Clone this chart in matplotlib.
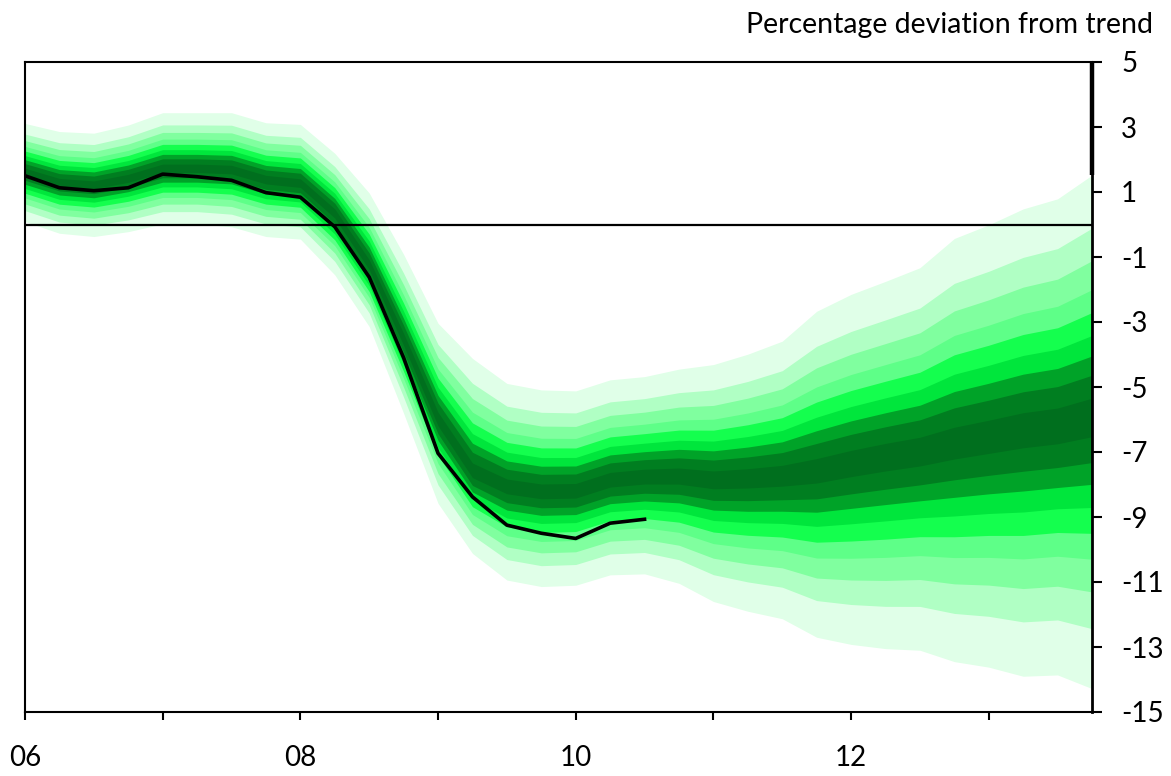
import numpy as np
import matplotlib
matplotlib.use("Agg")
import matplotlib.pyplot as plt

plt.rcParams['font.family'] = ['Lato', 'DejaVu Sans']

# quarterly dates, 2006 Q1 .. 2013 Q4
quarters = [2006.0 + 0.25 * k for k in range(32)]

# outer edges of the fan (lightest band) and middle of the darkest band
fan_top = [3.11, 2.86, 2.81, 3.06, 3.44, 3.44, 3.44, 3.13,
           3.08, 2.19, 0.97, -0.92, -3.04, -4.12, -4.89, -5.09,
           -5.12, -4.78, -4.68, -4.45, -4.31, -3.99, -3.59, -2.67,
           -2.15, -1.75, -1.33, -0.43, -0.01, 0.48, 0.79, 1.52]
fan_bottom = [0.09, -0.27, -0.37, -0.22, 0.02, 0.02, -0.07, -0.37,
              -0.45, -1.55, -3.14, -5.81, -8.58, -10.12, -10.94, -11.14,
              -11.10, -10.78, -10.75, -11.04, -11.60, -11.90, -12.13, -12.70,
              -12.92, -13.05, -13.10, -13.45, -13.62, -13.90, -13.86, -14.28]
fan_centre = [1.62, 1.30, 1.22, 1.42, 1.73, 1.73, 1.69, 1.38,
              1.27, 0.34, -1.25, -3.55, -6.00, -7.60, -8.07, -8.22,
              -8.20, -7.86, -7.76, -7.74, -7.85, -7.80, -7.72, -7.57,
              -7.34, -7.14, -6.97, -6.71, -6.51, -6.30, -6.17, -5.90]

# position of each band edge as a share of the distance centre -> outer edge
band_share = [0.075, 0.17, 0.25, 0.335, 0.43, 0.525, 0.645, 0.78, 1.0]
band_colors = ['#006F1E', '#007E20', '#00A328', '#00E63C', '#14FF4E',
               '#5EFF88', '#80FF9F', '#B0FFC4', '#E0FFE8']

# outturn
outturn_x = quarters[:19]
outturn = [1.50, 1.13, 1.04, 1.13, 1.55, 1.47, 1.36, 0.98,
           0.84, -0.07, -1.62, -4.10, -7.04, -8.38, -9.25, -9.50,
           -9.66, -9.19, -9.07]

x = np.array(quarters)
top = np.array(fan_top)
bot = np.array(fan_bottom)
mid = np.array(fan_centre)

fig = plt.figure(figsize=(11.71, 7.76), dpi=100)
ax = fig.add_axes([25 / 1171, 64 / 776, 1067 / 1171, 650 / 776])

# outer bands first, darker ones painted over them
for share, col in reversed(list(zip(band_share, band_colors))):
    upper = mid + share * (top - mid)
    lower = mid - share * (mid - bot)
    ax.fill_between(x, lower, upper, color=col, linewidth=0, zorder=1)

ax.axhline(0, color='black', lw=1.6, zorder=3)
ax.plot(outturn_x, outturn, color='black', lw=2.6, zorder=4)

# heavier edge on the right above the fan
ax.vlines(quarters[-1], fan_top[-1], 5, color='black', lw=3.2, zorder=5,
          clip_on=False)

ax.set_xlim(2006, 2013.75)
ax.set_ylim(-15, 5)

ax.yaxis.tick_right()
yt = list(range(-15, 6, 2))
ax.set_yticks(yt)
ax.set_yticklabels([str(v) for v in yt])
years = list(range(2006, 2014))
ax.set_xticks(years)
ax.set_xticklabels([str(y)[2:] if y % 2 == 0 else '' for y in years])

ax.tick_params(axis='y', direction='out', length=7, width=1.5, pad=14,
               labelsize=20, right=True, left=False)
ax.tick_params(axis='x', direction='out', length=6, width=1.5, pad=18,
               labelsize=20)

for side in ['left', 'top', 'bottom']:
    ax.spines[side].set_linewidth(1.5)
ax.spines['right'].set_linewidth(2.0)

fig.text(1153 / 1171, 1 - 33 / 776, 'Percentage deviation from trend',
         ha='right', va='baseline', fontsize=20.5)

fig.savefig('out.png', dpi=100)
